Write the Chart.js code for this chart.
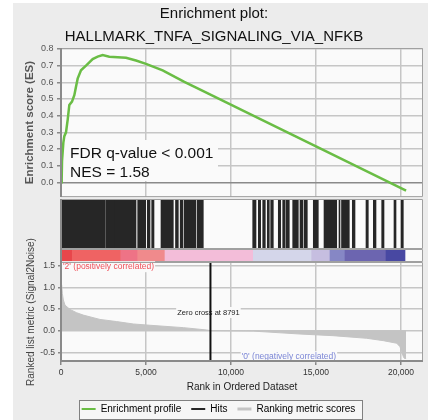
<!DOCTYPE html>
<html lang="en">
<head>
  <meta charset="UTF-8">
  <title>Enrichment plot: HALLMARK_TNFA_SIGNALING_VIA_NFKB</title>
  <style>
    html, body { margin: 0; padding: 0; background: #fff; overflow: hidden; width: 432px; height: 420px; }
    #panel { position: absolute; left: 13px; top: 3px; width: 415px; height: 417px; background: #ececec; }
    canvas { position: absolute; left: 0; }
    #esChart { top: 0; }
    #hitsChart { top: 199px; }
    #bandChart { top: 249px; }
    #metricChart { top: 220px; }
  </style>
</head>
<body>
  <div id="panel"></div>
  <canvas id="esChart" width="432" height="206"></canvas>
  <canvas id="hitsChart" width="432" height="50"></canvas>
  <canvas id="bandChart" width="432" height="13"></canvas>
  <canvas id="metricChart" width="432" height="206"></canvas>

  <script src="https://cdn.jsdelivr.net/npm/chart.js"></script>
  <script>
    // data
    const geneSet = 'HALLMARK_TNFA_SIGNALING_VIA_NFKB';
    const fdrText = 'FDR q-value < 0.001';
    const nesText = 'NES = 1.58';
    const zeroCross = 8791;

    const rankTicks = [0, 5000, 10000, 15000, 20000];
    const esTicks = [0, 0.1, 0.2, 0.3, 0.4, 0.5, 0.6, 0.7, 0.8];
    const metricTicks = [-0.5, 0, 0.5, 1.0, 1.5];

    // running enrichment score
    const esRank = [0, 40, 60, 137, 196, 294, 392, 490, 647, 784, 882, 980, 1176, 1470, 1666, 1862,
                    2156, 2450, 2843, 3333, 3823, 4411, 5000, 5980, 7255, 8370, 11277, 15000, 20300];
    const esScore = [0, 0.02, 0.128, 0.237, 0.277, 0.30, 0.375, 0.464, 0.484, 0.523, 0.573, 0.622, 0.672, 0.70, 0.72, 0.74,
                     0.754, 0.764, 0.754, 0.751, 0.747, 0.731, 0.711, 0.672, 0.603, 0.547, 0.402, 0.215, -0.05];

    // hit positions (rank ranges, dense runs read as one block)
    const hitStart = [41, 2647, 3194, 4512, 5076, 5335, 5882, 6735, 7012, 7235, 8018,
                      11277, 11606, 11865, 12135, 12335, 12782, 13041, 13235, 13629, 14059, 14294,
                      14841, 15471, 16353, 16500, 17135, 17941, 18371, 18865, 19588, 20000];
    const hitEnd = [2606, 3176, 4412, 4982, 5235, 5470, 6606, 6900, 7159, 7941, 8370,
                    11471, 11747, 12018, 12253, 12488, 12924, 13176, 13429, 13959, 14218, 14488,
                    15135, 16218, 16412, 16959, 17294, 18076, 18529, 19000, 19706, 20135];

    // heat band under the hits
    const bandStart = [41, 665, 3512, 4512, 6118, 11312, 14747, 15824, 16706, 19118];
    const bandEnd = [665, 3512, 4512, 6118, 11312, 14747, 15824, 16706, 19118, 20235];
    const bandColors = ['#e8464b', '#ef6363', '#ee7386', '#f08a8c', '#f3bdd9',
                        '#d4d6ea', '#c6bee0', '#8687c5', '#6c65b0', '#4848a2'];

    // ranked list metric
    const metricRank = [40, 78, 137, 235, 530, 920, 1310, 2290, 3270, 4250, 5240, 7200, 8570, 8791,
                        11310, 14060, 16000, 17980, 18960, 19750, 19940, 20040, 20140, 20200, 20300];
    const metricScore = [1.06, 0.86, 0.71, 0.59, 0.49, 0.415, 0.36, 0.26, 0.21, 0.155, 0.125, 0.07, 0.016, 0,
                         -0.01, -0.077, -0.115, -0.175, -0.23, -0.29, -0.37, -0.485, -0.6, -0.64, -0.64];

    const legendNames = ['Enrichment profile', 'Hits', 'Ranking metric scores'];

    // scale bounds
    const rankMax = 21294;
    const esMin = -0.089, esMax = 0.806;
    const metricMin = -0.723, metricMax = 1.586;

    // styles
    const family = "'Liberation Sans', Arial, sans-serif";
    const green = '#6abd45';
    const hitColor = '#262626';
    const gridColor = '#c6c6c6';
    const fillGray = '#c4c4c4';
    const plotBg = '#fafafa';
    const legendColors = [green, hitColor, fillGray];
    const legendWidths = [2, 2, 3];

    Chart.defaults.font.family = family;
    Chart.defaults.color = '#444';
    Chart.defaults.animation = false;
    Chart.defaults.plugins.tooltip.enabled = false;

    const setTicks = values => scale => { scale.ticks = values.map(v => ({ value: v })); };

    // plot background + frame round each panel
    const panel = {
      id: 'panel',
      beforeDraw(chart) {
        const { ctx, chartArea: a } = chart;
        ctx.save();
        ctx.fillStyle = plotBg;
        ctx.fillRect(a.left, a.top, a.right - a.left, a.bottom - a.top);
        ctx.restore();
      },
      afterDatasetsDraw(chart, args, opts) {
        const { ctx, chartArea: a } = chart;
        ctx.save();
        ctx.strokeStyle = '#a0a0a0';
        ctx.lineWidth = 1;
        ctx.beginPath();
        ctx.moveTo(a.left, a.top + 0.5);
        ctx.lineTo(a.right - 0.5, a.top + 0.5);
        ctx.lineTo(a.right - 0.5, a.bottom - 0.5);
        ctx.lineTo(a.left, a.bottom - 0.5);
        ctx.stroke();
        ctx.strokeStyle = '#8a8a8a';
        ctx.lineWidth = 2;
        ctx.beginPath();
        ctx.moveTo(a.left, a.top);
        ctx.lineTo(a.left, a.bottom);
        if (opts.bottomAxis) {
          ctx.moveTo(a.left, a.bottom - 1);
          ctx.lineTo(a.right, a.bottom - 1);
        }
        ctx.stroke();
        ctx.restore();
      }
    };

    // text with a plot-coloured box behind it
    function note(ctx, text, x, y, align, color, size) {
      ctx.font = size + 'px ' + family;
      const w = ctx.measureText(text).width;
      const left = align === 'left' ? x : x - w / 2;
      ctx.fillStyle = plotBg;
      ctx.fillRect(left - 1, y - 5.5, w + 2, 11);
      ctx.fillStyle = color;
      ctx.textAlign = 'left';
      ctx.textBaseline = 'middle';
      ctx.fillText(text, left, y);
    }

    const esNotes = {
      id: 'esNotes',
      beforeDatasetsDraw(chart) {
        const { ctx, chartArea: a } = chart;
        ctx.save();
        ctx.fillStyle = plotBg;
        ctx.fillRect(a.left + 1, a.top + 92, 156, 41);
        ctx.fillStyle = '#111';
        ctx.font = '15.5px ' + family;
        ctx.textBaseline = 'alphabetic';
        ctx.fillText(fdrText, a.left + 9, a.top + 110.3);
        ctx.fillText(nesText, a.left + 9, a.top + 128.7);
        ctx.restore();
      }
    };

    const metricNotes = {
      id: 'metricNotes',
      beforeDraw(chart) {
        // legend frame
        const boxes = chart.legend && chart.legend.legendHitBoxes;
        if (!boxes || !boxes.length) return;
        const first = boxes[0], last = boxes[boxes.length - 1];
        const ctx = chart.ctx;
        const cy = first.top + first.height / 2;
        const l = Math.round(first.left - 2.5) + 0.5;
        const r = Math.round(last.left + last.width + 7) + 0.5;
        ctx.save();
        ctx.fillStyle = '#f6f6f6';
        ctx.fillRect(l, Math.round(cy - 9.5) + 0.5, r - l, 19);
        ctx.strokeStyle = '#808080';
        ctx.lineWidth = 1;
        ctx.strokeRect(l, Math.round(cy - 9.5) + 0.5, r - l, 19);
        ctx.restore();
      },
      beforeDatasetsDraw(chart) {
        const { ctx, chartArea: a, scales: { x, y } } = chart;
        ctx.save();
        note(ctx, "'2' (positively correlated)", a.left + 2, a.top + 4.7, 'left', '#f0505a', 8.5);
        note(ctx, 'Zero cross at ' + zeroCross, x.getPixelForValue(zeroCross) - 2, y.getPixelForValue(0.42), 'center', '#222', 7.5);
        note(ctx, "'0' (negatively correlated)", x.getPixelForValue(10630), y.getPixelForValue(-0.6), 'left', '#7b86d6', 8.5);
        ctx.restore();
      }
    };

    // enrichment score panel
    new Chart(document.getElementById('esChart'), {
      type: 'line',
      data: {
        datasets: [{
          label: legendNames[0],
          data: esRank.map((r, i) => ({ x: r, y: esScore[i] })),
          borderColor: green,
          borderWidth: 2.5,
          pointRadius: 0,
          tension: 0
        }]
      },
      options: {
        responsive: false,
        layout: { padding: { left: 5, right: 9, top: 3, bottom: 7 } },
        scales: {
          x: {
            type: 'linear', min: 0, max: rankMax,
            afterBuildTicks: setTicks(rankTicks),
            afterFit: s => { s.height = 0; },
            ticks: { display: false },
            grid: { color: gridColor, lineWidth: 1.5, drawTicks: false },
            border: { display: false }
          },
          y: {
            min: esMin, max: esMax,
            afterBuildTicks: setTicks(esTicks),
            afterFit: s => { s.width = 56; },
            grid: {
              color: c => (c.tick && c.tick.value === 0 ? '#8a8a8a' : gridColor),
              lineWidth: 1.5, tickLength: 4, tickColor: '#888'
            },
            border: { display: false },
            ticks: { padding: 3.5, font: { size: 9 }, color: '#555', callback: v => v.toFixed(1) },
            title: {
              display: true, text: 'Enrichment score (ES)',
              font: { size: 11.5, weight: 'bold' }, color: '#555',
              padding: { top: 18, bottom: 0 }
            }
          }
        },
        plugins: {
          legend: { display: false },
          title: {
            display: true,
            text: ['Enrichment plot:', geneSet],
            font: { size: 15, weight: 'normal', lineHeight: 1.5 },
            color: '#111',
            padding: 0
          }
        }
      },
      plugins: [panel, esNotes]
    });

    // hits
    new Chart(document.getElementById('hitsChart'), {
      type: 'bar',
      data: {
        labels: ['hits'],
        datasets: [{
          label: legendNames[1],
          data: hitStart.map((s, i) => ({ y: 'hits', x: [s, hitEnd[i]] })),
          backgroundColor: hitColor,
          borderWidth: 0,
          categoryPercentage: 1,
          barPercentage: 1
        }]
      },
      options: {
        indexAxis: 'y',
        responsive: false,
        layout: { padding: { left: 61, right: 9, top: 0, bottom: 0 } },
        scales: {
          x: { type: 'linear', min: 0, max: rankMax, display: false },
          y: { display: false }
        },
        plugins: { legend: { display: false } }
      },
      plugins: [panel]
    });

    // colour band
    new Chart(document.getElementById('bandChart'), {
      type: 'bar',
      data: {
        labels: ['band'],
        datasets: [{
          data: bandStart.map((s, i) => ({ y: 'band', x: [s, bandEnd[i]] })),
          backgroundColor: bandColors,
          borderWidth: 0,
          categoryPercentage: 1,
          barPercentage: 1
        }]
      },
      options: {
        indexAxis: 'y',
        responsive: false,
        layout: { padding: { left: 61, right: 9, top: 0, bottom: 0 } },
        scales: {
          x: { type: 'linear', min: 0, max: rankMax, display: false },
          y: { display: false }
        },
        plugins: { legend: { display: false } }
      },
      plugins: [panel]
    });

    // ranked list metric + legend (canvas reaches up so the long axis title fits)
    new Chart(document.getElementById('metricChart'), {
      type: 'line',
      data: {
        datasets: [
          {
            label: 'Zero cross',
            data: [{ x: zeroCross, y: metricMin }, { x: zeroCross, y: metricMax }],
            borderColor: '#111',
            borderWidth: 2,
            pointRadius: 0
          },
          {
            label: legendNames[2],
            data: metricRank.map((r, i) => ({ x: r, y: metricScore[i] })),
            borderColor: fillGray,
            borderWidth: 1,
            backgroundColor: fillGray,
            fill: 'origin',
            pointRadius: 0,
            tension: 0
          }
        ]
      },
      options: {
        responsive: false,
        layout: { padding: { left: 14, right: 9, top: 42, bottom: 2 } },
        scales: {
          x: {
            type: 'linear', min: 0, max: rankMax,
            afterBuildTicks: setTicks(rankTicks),
            afterFit: s => { s.height = 32; },
            grid: { color: gridColor, lineWidth: 1.5, tickLength: 3, tickColor: '#888' },
            border: { display: false },
            ticks: {
              autoSkip: false, maxRotation: 0, padding: 3,
              font: { size: 8.5 }, color: '#333',
              callback: v => Number(v).toLocaleString('en-US')
            },
            title: {
              display: true, text: 'Rank in Ordered Dataset',
              font: { size: 10 }, color: '#222',
              padding: { top: 0, bottom: 1 }
            }
          },
          y: {
            min: metricMin, max: metricMax,
            afterBuildTicks: setTicks(metricTicks),
            afterFit: s => { s.width = 47; },
            grid: { color: gridColor, lineWidth: 1.5, tickLength: 3, tickColor: '#888' },
            border: { display: false },
            ticks: { padding: 3, font: { size: 8.5 }, color: '#444', callback: v => v.toFixed(1) },
            title: {
              display: true, text: 'Ranked list metric (Signal2Noise)',
              font: { size: 10 }, color: '#444',
              padding: { top: 11, bottom: 0 }
            }
          }
        },
        plugins: {
          legend: {
            position: 'bottom',
            labels: {
              usePointStyle: true,
              pointStyleWidth: 14,
              padding: 10,
              font: { size: 10 },
              color: '#111',
              generateLabels: () => legendNames.map((t, i) => ({
                text: t,
                strokeStyle: legendColors[i],
                fillStyle: legendColors[i],
                lineWidth: legendWidths[i],
                pointStyle: 'line',
                hidden: false,
                datasetIndex: i
              }))
            }
          },
          panel: { bottomAxis: true }
        }
      },
      plugins: [panel, metricNotes]
    });
  </script>
</body>
</html>
